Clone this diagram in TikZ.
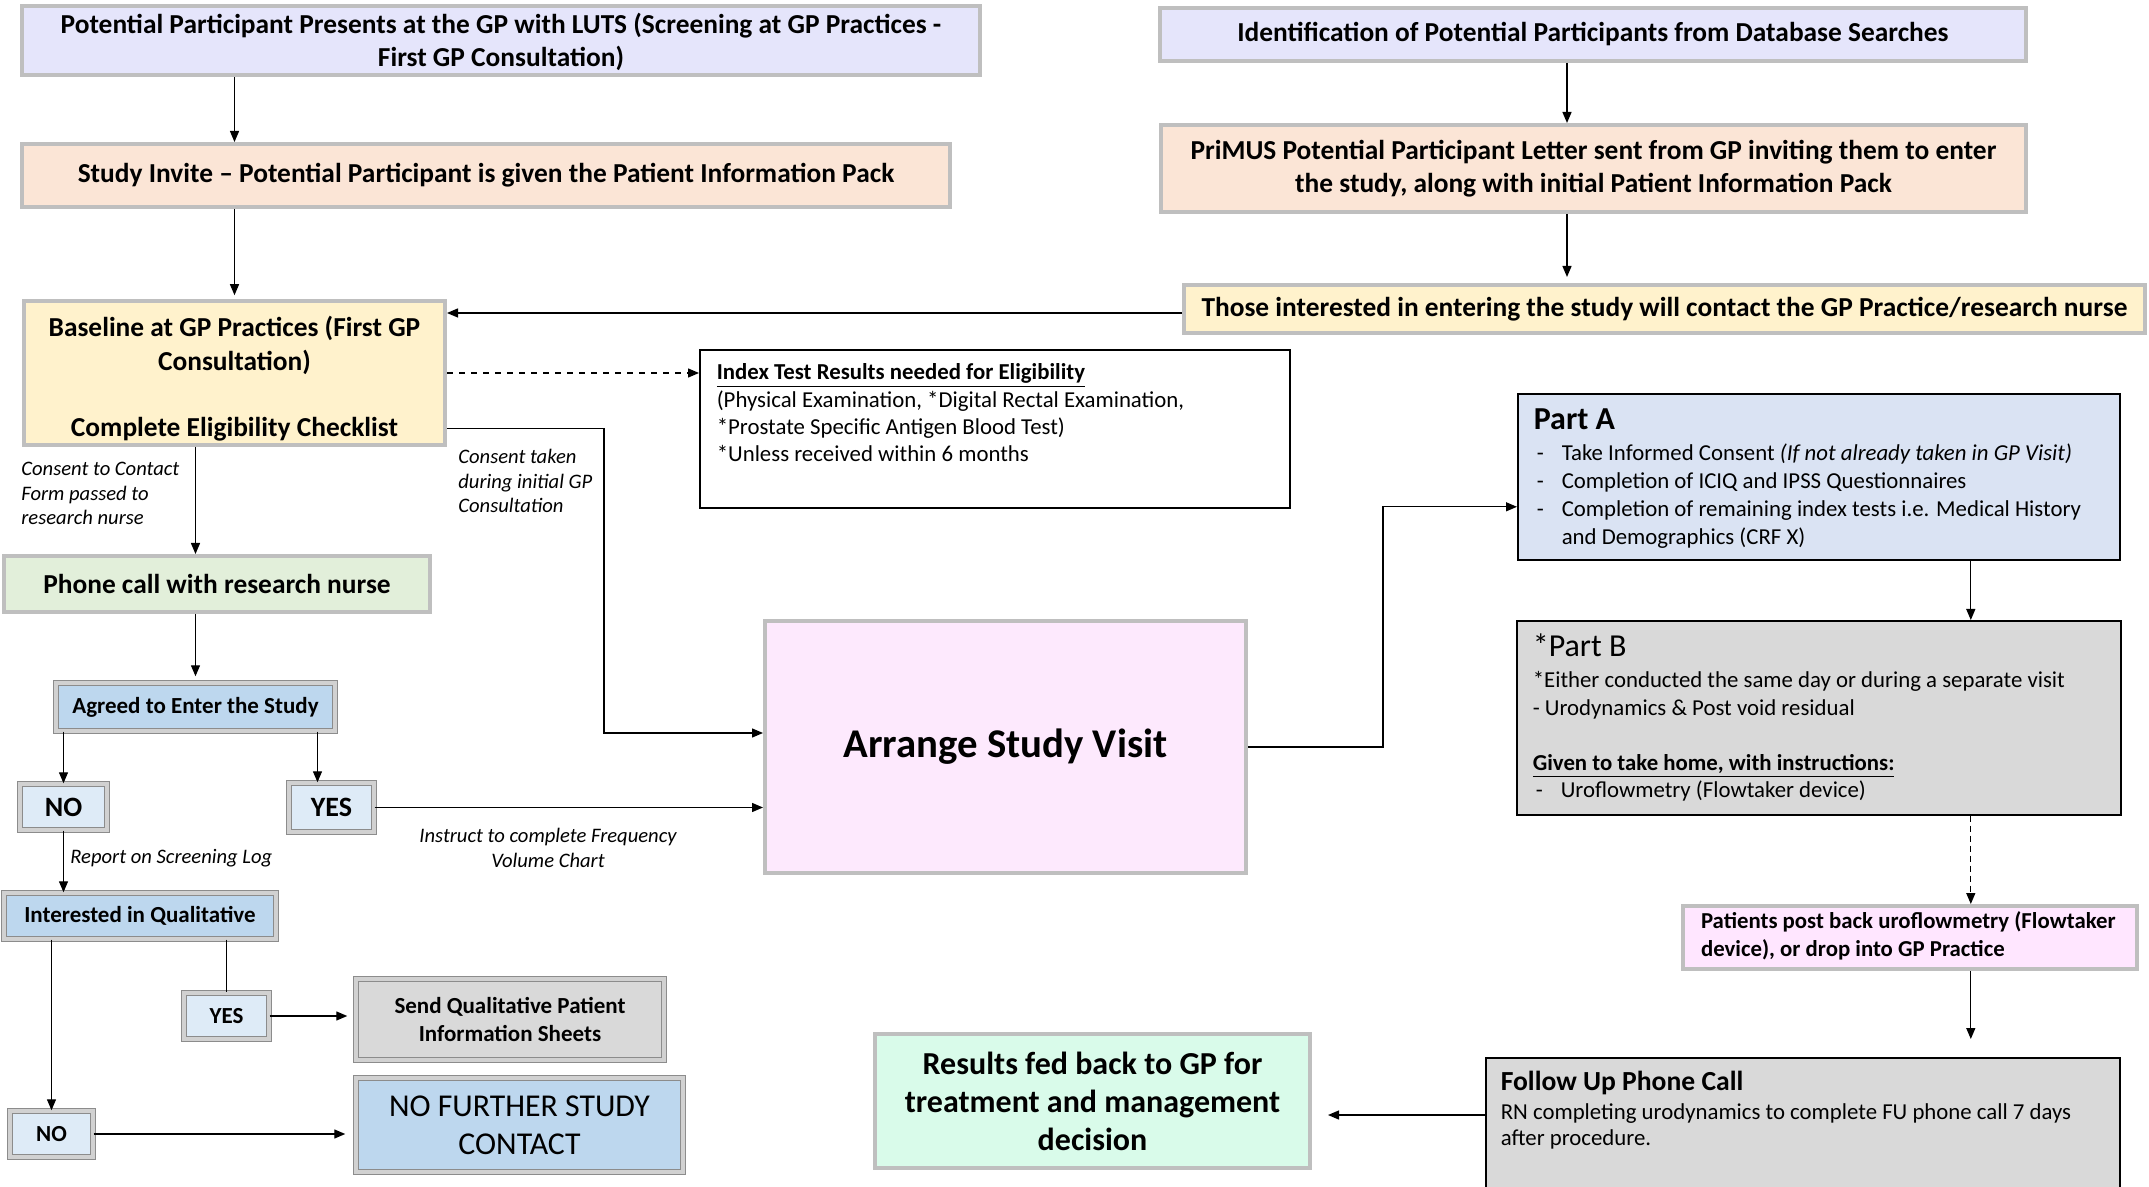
\documentclass[tikz,border=0pt]{standalone}
\usepackage{fontspec}
\setmainfont{Carlito}
\usetikzlibrary{arrows.meta}

\definecolor{lavender}{HTML}{E5E5FB}
\definecolor{peach}{HTML}{FBE5D6}
\definecolor{cream}{HTML}{FFF2CC}
\definecolor{palegreen}{HTML}{E2EFDA}
\definecolor{midblue}{HTML}{BDD7EE}
\definecolor{paleblue}{HTML}{DEEBF7}
\definecolor{boxgrey}{HTML}{D9D9D9}
\definecolor{visitpink}{HTML}{FDE9FD}
\definecolor{partblue}{HTML}{DAE3F3}
\definecolor{postpink}{HTML}{FFE6FF}
\definecolor{resultgreen}{HTML}{D9FBEA}
\definecolor{rimgrey}{HTML}{BFBFBF}

\tikzset{
	flowbox/.style={draw=rimgrey, line width=2pt, align=center, inner sep=2pt,
		font=\fontsize{13.7}{17}\selectfont\bfseries},
	twinbox/.style={draw=black!45, double=black!18, double distance=1.6pt,
		line width=0.7pt, align=center, inner sep=1pt,
		font=\fontsize{11.5}{14}\selectfont\bfseries},
	listbox/.style={draw=black, line width=0.8pt, anchor=north west,
		font=\fontsize{11.4}{13.7}\selectfont},
	remark/.style={inner sep=0pt, align=left,
		font=\fontsize{10.3}{12.3}\selectfont\itshape},
	link/.style={line width=0.65pt},
}
\newcommand{\dashitem}[1]{\par\hangindent=14pt\noindent\makebox[14pt][l]{\hspace{1.5pt}-}#1\par}

\begin{document}
\begin{tikzpicture}[x=0.5pt,y=-0.5pt,>={Triangle[length=5.5pt,width=4.5pt]}]
\path[use as bounding box] (0,0) rectangle (2149,1187);

% screening at the GP
\node[flowbox, fill=lavender, minimum width=479pt, minimum height=33.5pt,
	font=\fontsize{13.7}{16.5}\selectfont\bfseries] (pres) at (501,40.5)
	{\rule{0pt}{12pt}Potential Participant Presents at the GP with LUTS (Screening at GP Practices -\\First GP Consultation)};
\node[flowbox, fill=peach, minimum width=464pt, minimum height=31.5pt] (invite) at (486,175.5)
	{Study Invite -- Potential Participant is given the Patient Information Pack};
\node[flowbox, fill=cream, minimum width=210.5pt, minimum height=71pt] (base) at (234.5,373)
	{\rule{0pt}{15.5pt}Baseline at GP Practices (First GP\\Consultation)\\[16pt]Complete Eligibility Checklist};

% database searches
\node[flowbox, fill=lavender, minimum width=433pt, minimum height=26.5pt] (ident) at (1593,34.5)
	{Identification of Potential Participants from Database Searches};
\node[flowbox, fill=peach, minimum width=432.5pt, minimum height=43.5pt,
	font=\fontsize{13.7}{16.5}\selectfont\bfseries] (letter) at (1593.5,168.5)
	{PriMUS Potential Participant Letter sent from GP inviting them to enter\\the study, along with initial Patient Information Pack};
\node[flowbox, fill=cream, minimum width=480.5pt, minimum height=24pt] (interest) at (1664.5,309)
	{Those interested in entering the study will contact the GP Practice/research nurse};

\node[listbox, fill=white, inner xsep=8.5pt, inner ysep=7pt] (index) at (699,349)
	{\begin{minipage}[t][65pt][t]{278pt}\raggedright
	\textbf{\underline{Index Test Results needed for Eligibility}}\par
	(Physical Examination, *Digital Rectal Examination,\par
	*Prostate Specific Antigen Blood Test)\par
	*Unless received within 6 months
	\end{minipage}};

% research nurse contact
\node[flowbox, fill=palegreen, minimum width=213pt, minimum height=28pt] (phone) at (217,584)
	{Phone call with research nurse};
\node[twinbox, fill=midblue, minimum width=139.5pt, minimum height=24pt] (agreed) at (195.5,707)
	{Agreed to Enter the Study};
\node[twinbox, fill=paleblue, minimum width=43.5pt, minimum height=23pt,
	font=\fontsize{14}{16}\selectfont\bfseries] (noA) at (63.5,807) {NO};
\node[twinbox, fill=paleblue, minimum width=42.5pt, minimum height=24.5pt,
	font=\fontsize{14}{16}\selectfont\bfseries] (yesA) at (331.5,807.5) {YES};
\node[twinbox, fill=midblue, minimum width=136pt, minimum height=23pt] (qual) at (140,916)
	{Interested in Qualitative};
\node[twinbox, fill=paleblue, minimum width=42.5pt, minimum height=23pt] (yesB) at (226.5,1016) {YES};
\node[twinbox, fill=boxgrey, minimum width=154pt, minimum height=40.5pt] (sheets) at (510,1019.5)
	{Send Qualitative Patient\\Information Sheets};
\node[twinbox, fill=paleblue, minimum width=41.5pt, minimum height=23pt] (noB) at (51.5,1134) {NO};
\node[twinbox, fill=midblue, minimum width=163.5pt, minimum height=47pt,
	font=\fontsize{15.9}{19}\selectfont] (nocontact) at (519.5,1125) {NO FURTHER STUDY\\CONTACT};

% study visit
\node[flowbox, fill=visitpink, minimum width=240.5pt, minimum height=126pt,
	font=\fontsize{20.4}{24}\selectfont\bfseries] (visit) at (1005.5,747) {Arrange Study Visit};

\node[listbox, fill=partblue, inner xsep=8pt, inner ysep=7.5pt] (partA) at (1517,393)
	{\begin{minipage}[t][68pt][t]{285pt}\raggedright
	{\fontsize{16}{18}\selectfont\bfseries Part A\par}\vspace{1.5pt}
	\fontsize{11.4}{14}\selectfont
	\dashitem{Take Informed Consent \textit{(If not already taken in GP Visit)}}
	\dashitem{Completion of ICIQ and IPSS Questionnaires}
	\dashitem{Completion of remaining index tests i.e. Medical History\newline and Demographics (CRF X)}
	\end{minipage}};
\node[listbox, fill=boxgrey, inner xsep=8pt, inner ysep=6.5pt] (partB) at (1516,620)
	{\begin{minipage}[t][84pt][t]{286pt}\raggedright
	{\fontsize{16}{18}\selectfont *Part B\par}\vspace{2pt}
	*Either conducted the same day or during a separate visit\par
	- Urodynamics \& Post void residual\par
	\vspace{13.7pt}
	\textbf{\underline{Given to take home, with instructions:}}
	\dashitem{Uroflowmetry (Flowtaker device)}
	\end{minipage}};
\node[flowbox, fill=postpink, anchor=north west, align=left, inner xsep=9pt, inner ysep=3pt,
	font=\fontsize{11.4}{13.7}\selectfont\bfseries] (post) at (1681,904)
	{\begin{minipage}[t][25.5pt][t]{209pt}\raggedright
	Patients post back uroflowmetry (Flowtaker\newline device), or drop into GP Practice
	\end{minipage}};
\node[listbox, fill=boxgrey, inner xsep=7.5pt, inner ysep=6.5pt,
	font=\fontsize{11.4}{13}\selectfont] (followup) at (1485,1057)
	{\begin{minipage}[t][58.5pt][t]{302pt}\raggedright
	{\fontsize{13.8}{15}\selectfont\bfseries Follow Up Phone Call\par}\vspace{1.5pt}
	RN completing urodynamics to complete FU phone call 7 days\newline after procedure.
	\end{minipage}};
\node[flowbox, fill=resultgreen, minimum width=217.5pt, minimum height=67pt,
	font=\fontsize{16}{19}\selectfont\bfseries] (results) at (1092.5,1101)
	{Results fed back to GP for\\treatment and management\\decision};

% labels on the connectors
\node[remark, anchor=north west] (ctc) at (21,462) {Consent to Contact\\Form passed to\\research nurse};
\node[remark, anchor=north west] (cgp) at (458,449) {Consent taken\\during initial GP\\Consultation};
\node[remark, anchor=west] (slog) at (70,858) {Report on Screening Log};
\node[remark, align=center] (fvc) at (548,848) {Instruct to complete Frequency\\Volume Chart};

% connectors
\draw[link,->] (pres.south -| base.north) -- (invite.north -| base.north);
\draw[link,->,shorten >=2pt] (invite.south -| base.north) -- (base.north);
\draw[link,->] (base.south -| agreed.north) -- (phone.north -| agreed.north);
\draw[link,->,shorten >=3pt] (phone.south -| agreed.north) -- (agreed.north);
\coordinate (yesdrop) at ([xshift=-7pt]yesA.north);
\draw[link,->] (agreed.south -| noA.north) -- (noA.north);
\draw[link,->] (agreed.south -| yesdrop) -- (yesdrop);
\draw[link,->] (noA.south) -- (noA.south |- qual.north);
\draw[link] (qual.south -| yesB.north) -- (yesB.north);
\draw[link,->] (qual.south -| noB.north) -- (noB.north);
\draw[link,->,shorten >=4pt] (yesB.east) -- (yesB.east -| sheets.west);
\draw[link,->,shorten >=5pt] (noB.east) -- (noB.east -| nocontact.west);
\draw[link,->] (yesA.east) -- (yesA.east -| visit.west);

\coordinate (dbx) at ([xshift=-13pt]ident.south);
\draw[link,->] (dbx) -- (dbx |- letter.north);
\draw[link,->,shorten >=3pt] (dbx |- letter.south) -- (dbx |- interest.north);
\coordinate (intake) at ([yshift=-2pt]interest.west);
\draw[link,->] (intake) -- (intake -| base.east);
\draw[link,->,dashed] (base.east) -- (base.east -| index.west);
\draw[link,->] ([yshift=9pt]base.south east) -- ++(157,0) |- ([yshift=7pt]visit.west);

\draw[link,->] (visit.east) -- ++(135,0) |- ([yshift=-15pt]partA.west);
\coordinate (rcol) at ([xshift=76pt]partA.south);
\draw[link,->] (rcol) -- (rcol |- partB.north);
\draw[link,->,dash pattern=on 3pt off 2pt] (rcol |- partB.south) -- (rcol |- post.north);
\draw[link,->,shorten >=9pt] (rcol |- post.south) -- (rcol |- followup.north);
\coordinate (fbk) at ([yshift=-7pt]results.east);
\draw[link,->,shorten >=8pt] (fbk -| followup.west) -- (fbk);
\end{tikzpicture}
\end{document}
